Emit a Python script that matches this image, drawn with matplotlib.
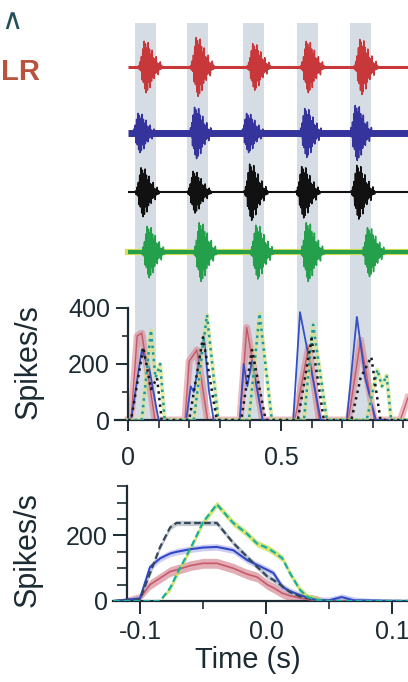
import numpy as np
import matplotlib
matplotlib.use("Agg")
import matplotlib.pyplot as plt
from matplotlib.ticker import FixedLocator

plt.rcParams["font.family"] = ["Liberation Sans", "DejaVu Sans"]

INK = "#1c2b33"

# shaded stimulus windows (s)
band_starts = [0.022, 0.193, 0.376, 0.552, 0.725]
band_width = 0.068

# raw traces: burst centres (s) and amplitudes, one row per unit
trace_names = ["red", "blue", "black", "green"]
trace_offsets = [3.03, 1.95, 0.98, 0.0]
trace_colors = ["#c8373a", "#35339c", "#111111", "#24a04c"]
trace_base_lw = [2.2, 5.0, 1.5, 3.0]
burst_centers = [
    [0.065, 0.235, 0.420, 0.595, 0.770],
    [0.045, 0.230, 0.400, 0.590, 0.755],
    [0.055, 0.225, 0.410, 0.580, 0.760],
    [0.075, 0.245, 0.430, 0.595, 0.795],
]
burst_amps = [
    [0.42, 0.48, 0.38, 0.42, 0.45],
    [0.32, 0.42, 0.32, 0.40, 0.45],
    [0.40, 0.34, 0.46, 0.42, 0.44],
    [0.42, 0.48, 0.44, 0.48, 0.40],
]
burst_shape = [0.05, -0.10, 0.20, -0.15, 0.40, -0.50, 0.70, -0.60, 1.00, -0.85,
               0.90, -1.00, 0.75, -0.90, 0.95, -0.60, 0.70, -0.80, 0.50, -0.55,
               0.65, -0.40, 0.35, -0.45, 0.30, -0.25, 0.40, -0.20, 0.15, -0.30,
               0.12, -0.10, 0.20, -0.08, 0.06, -0.05]

# PSTH, cycle by cycle (s, spikes/s)
red_t = [0.0, 0.010, 0.030, 0.045, 0.088, 0.186, 0.200, 0.225, 0.260, 0.366,
         0.388, 0.440, 0.545, 0.590, 0.625, 0.720, 0.760, 0.805, 0.890, 0.915]
red_r = [0, 0, 300, 310, 0, 0, 210, 250, 0, 0, 330, 0, 0, 260, 0, 0, 285, 0, 0, 80]
blue_t = [0.0, 0.010, 0.045, 0.070, 0.100, 0.190, 0.205, 0.215, 0.248, 0.265,
          0.280, 0.365, 0.378, 0.390, 0.405, 0.440, 0.540, 0.562, 0.595, 0.630,
          0.715, 0.748, 0.775, 0.810, 0.915]
blue_r = [0, 0, 250, 180, 0, 0, 120, 100, 300, 100, 0, 0, 200, 120, 210, 0,
          0, 385, 200, 0, 0, 368, 150, 0, 0]
black_t = [0.0, 0.010, 0.050, 0.075, 0.095, 0.110, 0.200, 0.245, 0.290, 0.370,
           0.405, 0.450, 0.555, 0.600, 0.640, 0.730, 0.760, 0.795, 0.825, 0.915]
black_r = [0, 0, 260, 110, 150, 0, 0, 295, 0, 0, 250, 0, 0, 290, 0, 0, 150, 225, 0, 0]
teal_t = [0.0, 0.045, 0.075, 0.090, 0.105, 0.120, 0.215, 0.258, 0.295, 0.395,
          0.430, 0.470, 0.575, 0.605, 0.650, 0.780, 0.815, 0.830, 0.845, 0.860, 0.915]
teal_r = [0, 0, 320, 150, 200, 0, 0, 375, 0, 0, 380, 0, 0, 340, 0, 0, 180, 120, 160, 0, 0]

# average cycle (s, spikes/s)
avg_t = [-0.121, -0.100, -0.092, -0.084, -0.076, -0.071, -0.060, -0.050, -0.039,
         -0.026, -0.015, -0.007, 0.001, 0.006, 0.013, 0.019, 0.027, 0.033, 0.040,
         0.050, 0.060, 0.070, 0.113]
avg_black = [0, 5, 85, 165, 225, 238, 238, 238, 238, 177, 135, 104, 75, 64, 45,
             27, 14, 9, 3, 0, 0, 0, 0]
avg_blue = [0, 8, 104, 130, 145, 150, 158, 163, 165, 155, 125, 110, 95, 85, 43,
            30, 18, 10, 3, 2, 12, 2, 0]
avg_red = [0, 8, 50, 70, 90, 95, 108, 115, 115, 100, 82, 73, 50, 40, 24, 16, 9,
           5, 2, 0, 0, 0, 0]
avg_green = [0, 0, 0, 0, 40, 80, 160, 240, 295, 238, 205, 175, 162, 150, 130, 85,
             34, 12, 4, 0, 0, 0, 0]
avg_black_sem = 8
avg_blue_sem = 10
avg_red_sem = 15
avg_green_sem = 10

fig = plt.figure(figsize=(4.08, 6.82), dpi=100)
W, H = 408.0, 682.0


def box(left, top, right, bottom):
    return [left / W, 1 - bottom / H, (right - left) / W, (bottom - top) / H]


xlim_top = (-0.0425, 0.915)

# ---- raw traces ----
ax_tr = fig.add_axes(box(115, 23, 408, 290))
ax_tr.set_xlim(*xlim_top)
ax_tr.set_ylim(-0.62, 3.75)
ax_tr.axis("off")
for s in band_starts:
    ax_tr.axvspan(s, s + band_width, color="#d6dce4", lw=0, zorder=0)
for i in range(len(trace_names)):
    off = trace_offsets[i]
    col = trace_colors[i]
    if trace_names[i] == "green":
        ax_tr.plot([0, xlim_top[1]], [off, off], color="#d8e050", lw=4.5, zorder=1)
    ax_tr.plot([0, xlim_top[1]], [off, off], color=col, lw=trace_base_lw[i], zorder=2,
               solid_capstyle="butt")
    for c, a in zip(burst_centers[i], burst_amps[i]):
        bx = c - 0.03 + np.arange(len(burst_shape)) * 0.0022
        by = off + a * np.array(burst_shape)
        ax_tr.plot(bx, by, color=col, lw=1.1, zorder=3)

# ---- PSTH ----
ax_p = fig.add_axes(box(115, 290, 408, 420))
ax_p.set_xlim(*xlim_top)
ax_p.set_ylim(0, 464)
ax_p.patch.set_alpha(0)
for s in band_starts:
    ax_p.axvspan(s, s + band_width, color="#d6dce4", lw=0, zorder=0)
ax_p.plot(red_t, red_r, color="#d46a78", lw=5, alpha=0.45, zorder=2)
ax_p.plot(red_t, red_r, color="#c04552", lw=1.0, alpha=0.8, zorder=2)
ax_p.plot(blue_t, blue_r, color="#3450c4", lw=1.3, zorder=3)
ax_p.plot(teal_t, teal_r, color="#d2e47a", lw=3, alpha=0.6, zorder=3)
ax_p.plot(teal_t, teal_r, color="#1a9aa0", lw=1.8, ls=":", zorder=4)
ax_p.plot(black_t, black_r, color="#1a1a1a", lw=1.8, ls=":", zorder=4)

for sp in ["top", "right"]:
    ax_p.spines[sp].set_visible(False)
ax_p.spines["left"].set_position(("data", 0))
ax_p.spines["left"].set_bounds(0, 400)
for sp in ["left", "bottom"]:
    ax_p.spines[sp].set_color(INK)
    ax_p.spines[sp].set_linewidth(1.6)
ax_p.set_yticks([0, 200, 400])
ax_p.yaxis.set_minor_locator(FixedLocator([100, 300]))
ax_p.set_xticks([0, 0.5])
ax_p.set_xticklabels(["0", "0.5"])
ax_p.xaxis.set_minor_locator(FixedLocator([0.1, 0.2, 0.3, 0.4, 0.6, 0.7, 0.8, 0.9]))
ax_p.tick_params(axis="y", which="major", length=9, width=1.4, color=INK,
                 labelsize=18, pad=4, labelcolor=INK)
ax_p.tick_params(axis="y", which="minor", length=4.5, width=1.2, color=INK)
ax_p.tick_params(axis="x", which="major", length=8, width=1.4, color=INK,
                 labelsize=18, pad=11, labelcolor=INK)
ax_p.tick_params(axis="x", which="minor", length=6, width=1.2, color=INK)
fig.text(29 / W, 1 - 362 / H, "Spikes/s", rotation=90, ha="center", va="center",
         fontsize=22, color=INK)

# ---- average cycle ----
ax_a = fig.add_axes(box(113, 483, 408, 601))
ax_a.set_xlim(-0.1214, 0.1127)
ax_a.set_ylim(0, 360)
ax_a.patch.set_alpha(0)
at = np.array(avg_t)
for vals, sem, fc in [(avg_red, avg_red_sem, "#d88a98"),
                      (avg_blue, avg_blue_sem, "#b8b8ec"),
                      (avg_black, avg_black_sem, "#aab4c0"),
                      (avg_green, avg_green_sem, "#c4dc3c")]:
    v = np.array(vals, dtype=float)
    ax_a.fill_between(at, np.clip(v - sem, 0, None), v + sem * (v > 1),
                      color=fc, alpha=0.7, lw=0, zorder=2)
ax_a.plot(at, avg_red, color="#c65a6c", lw=1.2, zorder=3)
ax_a.plot(at, avg_blue, color="#3048c8", lw=1.5, zorder=4)
ax_a.plot(at, avg_black, color="#34485a", lw=1.6, ls=(0, (3, 1.5)), zorder=4)
ax_a.plot(at, avg_green, color="#18b0a0", lw=1.6, ls=(0, (3, 1.5)), zorder=5)

for sp in ["top", "right"]:
    ax_a.spines[sp].set_visible(False)
ax_a.spines["left"].set_position(("data", -0.110))
ax_a.spines["left"].set_bounds(0, 350)
for sp in ["left", "bottom"]:
    ax_a.spines[sp].set_color(INK)
    ax_a.spines[sp].set_linewidth(1.6)
ax_a.set_yticks([0, 200])
ax_a.yaxis.set_minor_locator(FixedLocator([50, 100, 150, 250, 300, 350]))
ax_a.set_xticks([-0.1, 0.0, 0.1])
ax_a.set_xticklabels(["-0.1", "0.0", "0.1"])
ax_a.xaxis.set_minor_locator(FixedLocator([-0.05, 0.05]))
ax_a.tick_params(axis="y", which="major", length=10, width=1.4, color=INK,
                 labelsize=18, pad=4, labelcolor=INK)
ax_a.tick_params(axis="y", which="minor", length=7, width=1.2, color=INK)
ax_a.tick_params(axis="x", which="major", length=9, width=1.4, color=INK,
                 labelsize=18, pad=5, labelcolor=INK)
ax_a.tick_params(axis="x", which="minor", length=6, width=1.2, color=INK)
fig.text(28 / W, 1 - 550 / H, "Spikes/s", rotation=90, ha="center", va="center",
         fontsize=22, color=INK)
fig.text(248 / W, 1 - 660 / H, "Time (s)", ha="center", va="center",
         fontsize=21, color=INK)

# partial labels at top-left
fig.text(1 / W, 1 - 72 / H, "LR", ha="left", va="center", fontsize=21,
         fontweight="bold", color="#b8543e")
fig.text(1 / W, 1 - 21 / H, "\u2227", ha="left", va="center", fontsize=21,
         color="#24505a")

fig.savefig("out.png", dpi=100)
